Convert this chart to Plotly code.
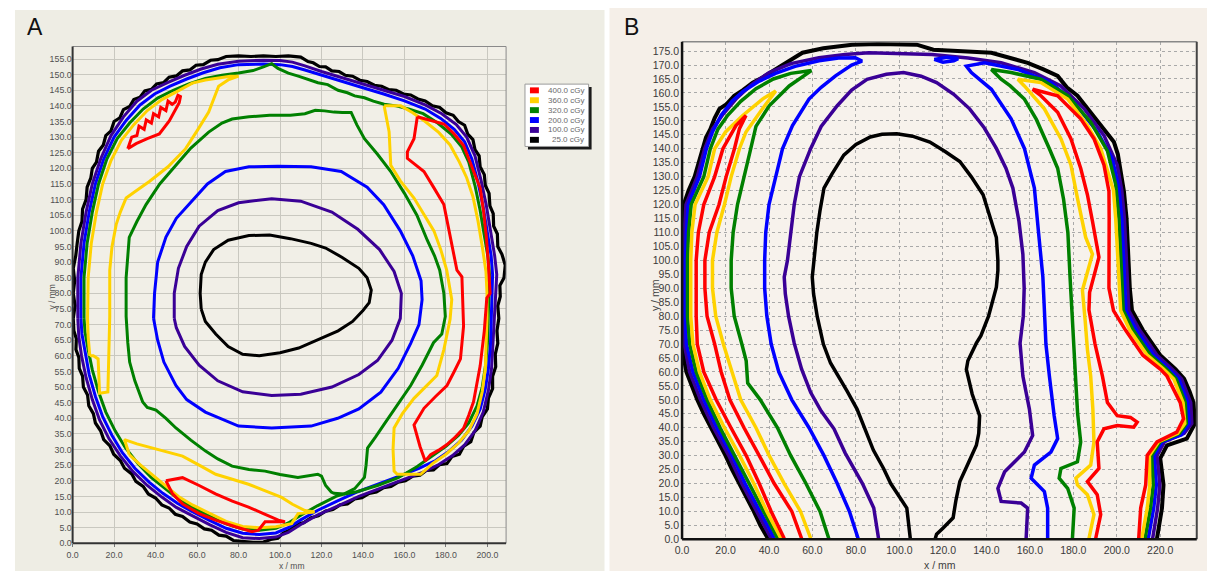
import plotly.graph_objects as go

W, H = 1207, 577

# ---------------- legend / levels ----------------
DOSE_LABELS = ["400.0 cGy", "360.0 cGy", "320.0 cGy", "200.0 cGy", "100.0 cGy", "25.0 cGy"]
DOSE_COLORS = ["#ff0000", "#ffd200", "#008000", "#0000ff", "#3a0096", "#000000"]
RED, YEL, GRN, BLU, PUR, BLK = DOSE_COLORS

# ---------------- axes ----------------
A_X_TICKS = [0, 20, 40, 60, 80, 100, 120, 140, 160, 180, 200]
A_Y_TICKS = [i * 5 for i in range(32)]
B_X_TICKS = [0, 20, 40, 60, 80, 100, 120, 140, 160, 180, 200, 220]
B_Y_TICKS = [i * 5 for i in range(36)]
A_X_RANGE = [0, 209]
A_Y_RANGE = [0, 159]
B_X_RANGE = [0, 236.8]
B_Y_RANGE = [0, 178.3]

# ================= Panel A contours (x mm, y mm) =================
A_black_outer = [(0.3,72),(1.2,76),(0.3,80),(1.0,84),(0.3,88),(1.5,92),(2.2,96),(3.0,100),(4.5,103),(4.8,107),(6.5,110),(7.0,114),(8.8,117),(9.5,120),(11.5,122),(12.5,125.5),(14.8,127.5),(16.0,130.5),(18.5,132),(20.0,135),(22.8,136.2),(24.5,138.8),(27.5,139.8),(29.5,142),(32.5,142.8),(34.8,144.8),(38.0,145.3),(40.5,147),(44.0,147.5),(46.5,149.2),(50.0,149.6),(53.0,151.2),(56.5,151.5),(59.5,153),(63.0,153.2),(66.5,154.6),(70.0,154.8),(74.0,155.8),(80.0,156),(86.0,155.8),(92.0,156),(98.0,155.8),(104.0,156),(110.0,155.6),(113.5,154.2),(116.0,153.8),(119.0,152.6),(122.0,152.5),(125.0,151.2),(128.5,151),(131.5,149.8),(135.0,149.5),(138.5,148.2),(142.0,147.8),(145.5,146.6),(149.0,146.3),(152.5,145.2),(156.0,145),(159.5,143.8),(163.0,143.5),(166.5,142.2),(170.0,141.6),(173.5,140),(177.0,139.5),(180.0,137.8),(183.5,137),(186.0,135),(189.0,133.8),(190.5,131),(193.0,129.2),(194.0,126),(196.0,124),(196.5,120.5),(198.5,118),(199.0,114.5),(200.8,112),(201.2,108),(202.8,105.5),(203.0,101.5),(204.8,99),(205.0,95),(207.0,92.5),(208.6,89),(208.0,85),(206.0,82.5),(206.2,79),(205.0,76),(205.5,72),(204.6,68),(205.0,64),(203.8,60.5),(204.0,56.5),(202.5,53.5),(202.5,49.5),(200.5,46.5),(200.0,43),(197.5,40.5),(196.5,37.5),(193.5,35.5),(192.0,32.5),(188.5,31),(186.5,28.5),(183.0,27.8),(180.5,25.5),(177.0,25.2),(174.0,23.5),(170.5,23.3),(167.5,21.8),(164.0,21.5),(160.5,20),(157.0,19.6),(153.5,18.2),(150.0,17.8),(146.5,16.4),(143.0,16),(139.5,14.6),(136.0,14.2),(132.5,12.6),(129.0,12.3),(125.5,10.8),(122.0,10.3),(118.5,8.8),(115.0,8.2),(111.5,6.6),(108.0,6.0),(104.5,4.2),(101.5,3.3),(99.0,1.6),(95.5,1.2),(92.0,0.4),(87.0,0.3),(82.0,0.5),(77.5,0.9),(74.0,2.3),(70.5,2.6),(67.0,4.2),(63.5,4.6),(60.0,6.2),(56.5,6.8),(53.0,8.6),(49.5,9.3),(46.5,11.3),(43.0,12.3),(40.0,14.5),(36.5,15.8),(34.0,18.2),(30.5,19.8),(28.5,22.2),(25.0,24),(23.0,26.5),(19.8,28.5),(18.0,31.2),(15.0,33.2),(13.5,36),(11.0,38.5),(10.0,41.5),(7.8,44),(7.2,47.5),(5.2,50),(4.8,53.5),(3.2,56),(3.0,59.5),(1.6,62),(1.8,65.5),(0.6,68),(0.3,72)]

A_purple_outer = [(2.5,72),(2.5,85),(4.0,96),(6.5,106),(9.5,115),(13.5,123),(18.5,130.5),(24.5,136.5),(31,141.5),(38,145),(46,147.5),(54,149.8),(62,151.8),(70,153.3),(80,154.3),(92,154.6),(100,154.5),(106,154),(112,152.8),(120,151),(130,149),(140,147),(150,145),(160,143),(170,140.3),(178,137.5),(185,134),(190,130),(194,124),(197,116),(199.5,108),(201.5,100),(203.5,92),(204.5,86),(204,80),(203.5,72),(203,64),(202,56),(200.5,49),(198,42),(194,36),(189,31.5),(183,28),(176,25),(168,22.5),(158,20),(148,17.5),(138,15),(128,12),(118,9),(110,6),(104,3.5),(98,2),(90,1.5),(82,1.8),(74,3.5),(66,6),(58,8.8),(50,11.5),(43,14.8),(36,18.5),(29,23),(23,28),(17.5,33.5),(13,39.5),(9.5,46),(6.5,53),(4.3,60),(3,66),(2.5,72)]

A_blue_outer = [(4,72),(4,85),(5.5,96),(8,106),(11,115),(15,123),(20,130),(26,135.5),(32.5,140.3),(39.5,143.8),(47,146.3),(55,148.6),(63,150.6),(71,152.2),(80,153.2),(92,153.4),(100,153.2),(106,152.6),(112,151.5),(120,149.8),(130,147.8),(140,145.8),(150,143.8),(160,141.6),(170,139),(177.5,136),(184,132.5),(189,128.5),(192.5,123),(195.5,115.5),(198,107.5),(200,99.5),(201.8,92),(202.5,86),(202.3,80),(202,72),(201.5,64),(200.5,56),(199,49.5),(196.5,43),(192.5,37.5),(187.5,33),(181.5,29.5),(175,26.5),(167,24),(157.5,21.5),(147.5,19),(137.5,16.5),(127.5,13.5),(118,10.5),(110,7.5),(104,5),(98,3.3),(90,2.8),(82,3.2),(74,4.8),(66,7.3),(58,10),(50.5,12.8),(43.5,16),(37,19.5),(30,24),(24,29),(19,34.5),(14.5,40.5),(11,47),(8,54),(6,61),(4.5,67),(4,72)]

A_green_outer = [(5.5,72),(5.5,85),(7,96),(9.5,106),(12.5,115),(16.5,123),(21.5,129.5),(27.5,134.5),(34,139),(41,142.5),(48.5,145),(56,147),(64,148.8),(72,149.8),(80,150.5),(87,151.3),(92,152.5),(96,153.5),(99,152),(104,150.5),(108.8,149.5),(113,148.5),(118.3,147.4),(123,146.8),(128,145),(132.5,144.2),(136,143.2),(140.7,142.6),(145,141.5),(150.2,140.5),(156,140),(162,139),(169,137.5),(176,134.5),(182.5,131),(187.5,127),(191,122),(194,114.5),(196.5,106.5),(198.5,98.5),(200.3,91.5),(201,86),(200.8,80),(200.5,72),(200,64),(199,56.5),(197.5,50),(195,44),(191,38.5),(186,34.5),(180,31),(173.5,28),(166,24.5),(157,21),(147,18.5),(137,16.5),(131,15.8),(127,15),(118,12),(110,9),(104,6.5),(98,4.8),(90,4.2),(82,4.6),(74,6.2),(66,8.7),(58,11.4),(51,14.2),(44.5,17.5),(38,21),(31.5,25.5),(25.5,30.5),(20.5,36),(16,42),(12.5,48.5),(9.5,55.5),(7.5,62),(6,67.5),(5.5,72)]

A_green_inner = [(25.8,72.6),(25.8,85),(27.3,97.9),(31,103),(35.4,108.4),(42,115),(49.8,121),(57,126.5),(65.6,131.6),(72,134.5),(76.9,135.8),(85,136.5),(95,137),(105,137),(112,137.5),(117,138.6),(121.5,138.4),(126,138),(130,137.9),(134.3,137.9),(137,134),(140.7,129.5),(147,124.5),(153.4,119),(160,112),(166,105),(171,97),(174.5,92),(177,87.4),(179,80),(179.7,72.6),(178,67),(174,64.2),(168.5,57),(163,50.5),(156.5,44),(150,37.9),(146,34),(142.2,30.5),(141.5,25),(140.7,21.1),(136,17.5),(131,15.8),(126,16),(124.7,16.4),(122,18.5),(120,21.5),(118.2,22.1),(113,21.5),(108.6,21.1),(100,22),(92.8,23.1),(85,23.6),(76.9,24.7),(70,27),(64.1,29.5),(57,33),(49.8,36.9),(45,40),(40.2,42.6),(36,43.5),(33.8,45.2),(30,52),(27.5,58),(26.6,64.2),(25.8,72.6)]

A_blue_inner = [(39,72),(39.5,80),(41,90),(45,98),(50,104),(57.5,109.5),(65,115),(73.7,119),(85,120.5),(99,120.7),(115,120.5),(129.5,119),(142,114),(150,108.4),(158,100),(164,92),(168,84),(168.5,78),(167,70),(163,64),(157,56),(148.6,48.4),(138,43),(127.8,40),(115,37.5),(96,36.9),(80,37.5),(64,42),(55,46),(49.8,50.5),(44,58),(41,65),(39,72)]

A_purple_inner = [(49,72),(49,80),(51,88),(55,95),(61,101.5),(70,106.5),(80,109),(96,110.3),(110,109.5),(125,106),(137.5,100.5),(148,94),(155,87),(158.5,80),(158,72),(154,65),(147,58.5),(138,54),(125,50),(110,47.7),(96,47.3),(82,48.5),(70,52),(61,57),(54,63),(50,69),(49,72)]

A_black_inner = [(62,75),(61.5,80),(62,86),(64,90),(68,94),(75,97),(85,98.5),(95,98.7),(105,97.5),(115,96),(122,94.5),(130,91.5),(138,88),(142,85),(144,81),(143,77),(140,74.5),(135,71),(128,68),(118,65),(109,62.5),(100,61),(90,60),(82,60.5),(75,63),(69,67),(64,71),(62,75)]

A_yellow_left = [(8.3,60),(7.5,66),(7.2,72),(7.5,85),(9,96),(11.5,106),(14.5,115),(18.5,122.5),(23.5,129),(29.5,134),(36,138.5),(43,142),(50,144.5),(57.7,147.3),(64,148.3),(70,149),(76,149.5),(80,149.5),(75,148.3),(70.4,146.3),(68,142),(65.6,138),(60,132),(54.5,126.3),(46,120.5),(37,115.8),(30,112.5),(25.8,110.5),(23,106),(21,102),(19,95),(17.9,87.4),(17.9,72.6),(17.5,60),(17,48.4),(13,48),(12.5,54),(12.3,59),(10,60),(8.3,60)]

A_yellow_bottom = [(27.3,28.4),(25,33.2),(31,31.8),(38.6,30.5),(46,29.2),(53,27.9),(61,25),(69,22.1),(77,20.5),(84.8,18.9),(92,17),(100.8,14.7),(106,12.5),(112,10.5),(116.7,10),(112,9.7),(108.7,9.5),(105.6,6.3),(98,5.3),(90,5),(82,5.4),(74,7),(66,9.5),(58,12.2),(51,15),(44.5,18.5),(38.5,22),(32.5,25.2),(27.3,28.4)]

A_yellow_right = [(150.2,140),(152.6,131.7),(153.4,121),(158,116),(164.6,110.5),(169.5,105),(174.2,100),(177.5,94),(180.4,87.4),(182.8,78),(182,71.7),(179,62),(175.6,53.7),(170,50),(164.6,46.4),(159,41.5),(155,36.9),(154.5,30),(155,23.1),(156.5,22.1),(162,22.1),(167.8,22.1),(173.5,25.5),(180,28.5),(186,32),(191,36),(195,41.5),(197.5,48.5),(199,56),(199.5,64),(199.8,72),(199.8,80),(199.3,87),(197.5,95),(195.5,103),(193,111),(190,117),(186.5,122),(182,127.5),(176.5,131.5),(170,135),(164,137.8),(158.2,140),(150.2,140)]

A_red_right = [(166.2,136.5),(172,135.5),(179,134.2),(184,131),(188.5,127.3),(192.5,120.5),(196.5,113.7),(198.2,106),(199.5,97.9),(200.5,89),(201.3,80),(199.7,78.5),(198.5,68),(196.5,56.8),(195,51),(193.3,45.3),(191,41),(188.5,36.8),(184.5,34),(180.5,31.6),(176.5,29.8),(172.6,28.4),(170,26.3),(167.5,31),(164.6,37.9),(169.4,43.2),(175,47),(180.5,50.5),(184,55),(187,59),(188.5,69.5),(188,78),(187.7,85.3),(185.3,87.4),(182,98),(179,108.4),(174,114),(169.4,119),(161.4,123.2),(161.4,125.3),(164.6,129.5),(165.5,133),(166.2,136.5)]

A_red_topleft = [(26.6,126.3),(30.6,127.9),(36,129.5),(41.8,131),(46.6,135.2),(51.4,141),(52,143),(50.8,143.4),(49.5,141.2),(48,140.5),(46,141.5),(45,138.5),(42.5,139.5),(41.5,136.5),(39,137.5),(38,134.5),(35.5,135.5),(34.5,132.5),(32,133.5),(31,130.5),(28.5,130),(27.5,128),(26.6,126.3)]

A_red_bottom = [(45,20),(53,21),(61,18.5),(68.9,15.8),(77,13.5),(84.8,11.6),(92,9.5),(99.2,7.4),(102.4,6.9),(96,6.9),(92.8,6.9),(89.6,4.2),(86.5,3.7),(78.5,5.3),(68.9,7.4),(61,9.5),(53,12.6),(48.2,15.8),(45,20)]

# ================= Panel B contours (x mm, y mm) =================
B_black_outer = [(39.5,0.3),(36,5),(33,10),(29.5,15),(26,20),(23,25),(20,30),(16.5,35),(13,40),(10,45),(7,50),(4.5,55),(2,60),(0.8,65),(0.3,70),(0.3,80),(0.3,90),(0.3,100),(0.3,110),(0.8,120),(3,125),(5.8,130),(7.5,135),(9.6,140),(11,144),(13,147),(15,151),(17.2,154.3),(20.5,156),(24,159),(28,161),(32.5,163.7),(37,165.5),(42,168),(48,171),(55.4,174.4),(65,176),(72,176.5),(78.2,177.3),(90,177.5),(108,177.3),(115.6,175.5),(130,175),(142.3,174.4),(151,172.5),(159,170.8),(166,168.5),(172.8,166.1),(177,162),(181.9,159),(187,154),(192.6,148.3),(198.7,142.4),(200.5,138),(201.7,133),(203.3,124.7),(204.5,115),(205.5,100),(206,90),(207,82),(212,75),(216,70.5),(220,66),(227,61),(231,57.5),(233.5,53),(235.3,49),(236,41.5),(232.2,36.1),(223.1,33.7),(220,29),(221.5,19.5),(220.8,11.2),(218.5,0.3)]

B_purple_outer = [(41,0.3),(34.5,10),(27.5,20),(21.5,30),(14.5,40),(8.5,50),(3.5,60),(1,70),(0.8,80),(0.8,90),(0.8,100),(1,110),(1.8,120),(7,130),(10.4,140),(14,147),(19,152.5),(24.8,157.8),(32,163),(40.1,167.3),(50,170.5),(63,172.6),(75,173.8),(85.9,174.4),(101,174),(115,173.8),(131.6,172.5),(146.8,170.8),(162.1,167.3),(174.3,162.5),(185,154.3),(194.1,144.8),(200.2,134.2),(202.3,125),(203.5,115),(204.3,100),(204.7,90),(205.5,82),(210.5,75),(218.5,66),(225.5,61),(229.8,57.5),(234,49),(234.5,41.5),(231,38),(222,35),(218.5,30),(219.8,19.5),(218.8,11.2),(216.5,0.3)]

B_blue_left = [(42.5,0.3),(36,10),(29,20),(23,30),(16,40),(10,50),(5,60),(2,70),(1.5,80),(1.5,90),(1.5,100),(2,110),(2.8,120),(8,130),(11.2,140),(14,146),(18,152),(23,157),(28,160.5),(35,164),(43,167),(52,169.5),(63,171.5),(72,172.5),(79.7,172.6),(82.8,171.4),(78,170),(70.6,166.1),(64,162),(58.4,157.8),(53,151),(50.8,148.3),(46.2,140),(43.1,130),(40,120),(38.5,110),(38,100),(38,90),(39,80),(41,70),(44.5,60),(50.5,50),(58.4,40),(65.3,30),(71.4,20),(77,10),(81,0.3)]

B_blue_right = [(168.2,0.3),(168.2,11.2),(166.7,17.1),(160.6,21.9),(162.1,26.6),(169.7,31.3),(172.8,36.1),(171.2,44.3),(169,58.5),(167.4,70),(166.7,82.2),(166,94),(164,110),(162.1,125.9),(157.5,140.1),(151.4,150.7),(142.3,161.3),(133.1,167.3),(130.8,169.6),(139.2,170.8),(154.5,168.4),(169.7,163.7),(180.4,156.6),(191.1,146),(197.9,136.5),(201,125.9),(202.3,115),(203,100),(203.5,90),(204.2,82),(209,75),(217,66),(224,61),(228.5,57.5),(232.7,49),(233.2,41.5),(229.8,37.5),(221,35),(217.2,30),(218.2,19.5),(217,11.2),(214.5,0.3)]

B_blue_top = [(116,172),(120,171),(125,171.5),(127,172.3),(122,172.8),(116,172)]

B_green_left = [(44,0.3),(37.5,10),(31,20),(24.5,30),(17.5,40),(11.5,50),(6.5,60),(3.5,70),(2.5,80),(2.5,90),(2.5,100),(3,110),(4.2,120),(10,130),(13,140),(16.5,147),(21,152),(27,157),(34,161.5),(42,165),(50,167),(59.5,168),(56,166),(49.3,162.5),(40.1,155.4),(34,148),(31.6,140),(28.7,130),(25.5,120),(23.5,110),(22.6,100),(22.6,90),(24,80),(27.5,70),(29.5,64),(30.2,56),(36,50),(43.9,40),(50,30),(57,20),(63.5,10),(67.5,0.3)]

B_green_right = [(179.6,0.3),(180.4,11.2),(177.4,18.3),(173.5,21.9),(174.3,25.4),(181.9,27.8),(183.4,34.9),(182,45),(181,58.5),(180,70),(179.5,80),(178.5,94),(177.5,110),(175.5,122),(172.8,133),(169,140),(163,150.5),(157.5,157.8),(151,162.5),(146.8,164.9),(142.3,168.4),(151.4,167.3),(165.1,164.9),(177.4,159),(188,149.5),(195.7,139.2),(199.5,127.2),(201,115),(201.8,100),(202.3,90),(203,82),(207.5,75),(215.5,66),(222.8,61),(227.3,57.5),(231.5,49),(232,41.5),(228.8,38),(220,35),(216,30),(216.8,19.5),(215.5,11.2),(213,0.3)]

B_yellow_left = [(45.5,0.3),(39,10),(33,20),(26.5,30),(19.5,40),(13,50),(8,60),(5,70),(4,80),(4,90),(4,100),(4.5,110),(6,120),(12,130),(15,140),(20,146),(27.9,151.9),(37,157.8),(43.1,160.7),(37,154.3),(29.4,146),(26.4,140),(22.6,130),(19.5,120),(16,110),(14,100),(14,90),(15.5,80),(19,70),(23,60),(27,50),(34,40),(40.1,30),(47,20),(54.5,10),(59.2,0.3)]

B_yellow_right = [(187.2,0.3),(189.5,8.9),(186.5,16),(181.9,19.5),(181.2,21.9),(188,26.6),(189.5,34.9),(189,46.7),(188,58.5),(186.5,68),(185.5,78),(184.2,89.3),(188.8,102.2),(185.7,108.2),(181.9,122.3),(178.9,134.2),(174.3,143.6),(166.7,154.3),(157.5,162.5),(154.5,164.9),(165.1,163.7),(177.4,157.8),(186.5,148.3),(192.6,140.1),(197.2,128.3),(198.5,125),(199.5,115),(200.5,100),(201,90),(201.8,82),(206,75),(214,66),(221.5,61),(226.2,57.5),(230.5,49),(231.3,41.5),(228,38),(219.2,35),(215,30),(215.2,19.5),(214,11.2),(211.5,0.3)]

B_red_left = [(47,0.3),(41,10),(35.5,20),(29.5,30),(22.5,40),(15.7,50),(10,60),(7,70),(6.5,80),(6.5,90),(6.5,100),(7.5,110),(10,120),(15,130),(18.8,140),(24.8,148.3),(29.4,151.9),(26.4,147.2),(24.1,140),(20.3,130),(17,120),(12.5,110),(10.5,100),(10.5,90),(11.5,80),(15,70),(18,60),(22,50),(28.5,40),(35.5,30),(42.4,20),(50.5,10),(55,0.3)]

B_red_right = [(190.3,0.3),(192.6,8.9),(191,16),(186.5,20.7),(191.8,25.4),(191,34.9),(194.1,39.6),(200.2,40.8),(207.8,40.2),(209.4,42),(206.3,43.7),(200.2,44.3),(195.7,49),(193.4,58.5),(190,70),(187.2,82.2),(187.5,88.5),(191.8,101.1),(188.8,114.1),(186.5,123.5),(183.4,133),(178.9,143.6),(172.8,153.1),(165.1,159),(161.3,161.3),(172.8,159),(183.4,150.7),(189.5,143.6),(194.1,134.2),(196.4,124.7),(196.5,115),(196.5,100),(196.4,90),(198.5,82),(204,75),(212,66),(220,61),(223.1,58.5),(229.2,49),(230.7,43.2),(227.6,38.4),(218.5,34.9),(214,30.1),(213.3,19.5),(211,11.2),(210.1,0.3)]

B_purple_inner = [(90.4,0.3),(88.2,11.2),(83,20),(80,24),(75,31),(69.9,39.6),(64,46),(59.2,52.6),(55,61),(51.6,70.3),(49,80),(47.5,88),(47,94),(48.5,100),(50,110),(51.6,120),(54,130),(59.2,140.1),(64,148),(71.4,155.4),(78,161),(85.1,164.9),(94,166.7),(101.9,167.3),(110,166),(117.1,163.7),(125,159.5),(132.3,154.3),(139,147.5),(144.6,140.1),(149,133),(152.2,125.9),(155,114),(156.8,102.2),(157.4,90),(157,80),(155.5,70.3),(156.8,58.5),(159.8,46.7),(161.3,37.2),(157.5,31.3),(148.4,24.2),(145.3,18.3),(146.8,13.6),(156,13),(159,11.2),(158.3,0.3)]

B_black_inner = [(105,0.3),(103.4,11.2),(96,20),(92.7,25.4),(88,32),(84,40),(80.5,46.7),(76,53),(71,59.5),(68.3,63.2),(65,70),(62.2,79.8),(60.5,88),(59.9,94),(60.7,100),(62,110),(63.5,118),(65.3,125.9),(69,131),(74.4,137.7),(80,141.5),(86.6,144.2),(92,145.2),(98.8,145.4),(106,144.5),(114,142.4),(121,139),(127.8,135.4),(133,130),(138.5,123.5),(141.5,116),(144.6,108.2),(145.3,100),(145.3,96.3),(144.6,90.4),(141,80),(137.5,73),(135.4,70.3),(131.5,64),(130.8,60.9),(133.5,52),(136.9,44.3),(136.5,38),(135.4,33.7),(131.5,27),(127.8,20.7),(126,14),(124.7,7.7),(120,4),(117.1,1.8),(116.5,0.3)]

A_CONTOURS = [
    (A_black_outer, BLK, 3.2), (A_purple_outer, PUR, 3), (A_blue_outer, BLU, 3), (A_green_outer, GRN, 3),
    (A_green_inner, GRN, 3), (A_blue_inner, BLU, 3), (A_purple_inner, PUR, 3), (A_black_inner, BLK, 3),
    (A_yellow_left, YEL, 3), (A_yellow_bottom, YEL, 3), (A_yellow_right, YEL, 3),
    (A_red_right, RED, 3), (A_red_topleft, RED, 3), (A_red_bottom, RED, 3),
]
B_CONTOURS = [
    (B_black_outer, BLK, 4), (B_purple_outer, PUR, 3.5),
    (B_blue_left, BLU, 3.5), (B_blue_right, BLU, 3.5), (B_blue_top, BLU, 3.5),
    (B_green_left, GRN, 3.5), (B_green_right, GRN, 3.5),
    (B_yellow_left, YEL, 3.5), (B_yellow_right, YEL, 3.5),
    (B_red_left, RED, 3.5), (B_red_right, RED, 3.5),
    (B_purple_inner, PUR, 3.5), (B_black_inner, BLK, 3.5),
]

fig = go.Figure()
for pts, col, w in A_CONTOURS:
    fig.add_trace(go.Scatter(x=[p[0] for p in pts], y=[p[1] for p in pts], mode="lines",
                             line=dict(color=col, width=w), xaxis="x", yaxis="y",
                             showlegend=False, hoverinfo="skip"))
for pts, col, w in B_CONTOURS:
    fig.add_trace(go.Scatter(x=[p[0] for p in pts], y=[p[1] for p in pts], mode="lines",
                             line=dict(color=col, width=w), xaxis="x2", yaxis="y2",
                             showlegend=False, hoverinfo="skip"))

def px(x):
    return x / W

def py(y):
    return 1 - y / H

A_DOM_X = [px(66), px(502)]
A_DOM_Y = [py(549), py(47)]
B_DOM_X = [px(679), px(1196.7)]
B_DOM_Y = [py(545), py(42.3)]

FONT = "Liberation Sans, Arial, sans-serif"

shapes = []
# panel backgrounds
shapes.append(dict(type="rect", xref="paper", yref="paper", x0=px(8), x1=px(601), y0=0, y1=py(10),
                   fillcolor="#eeede4", line=dict(width=0), layer="below"))
shapes.append(dict(type="rect", xref="paper", yref="paper", x0=px(606), x1=1, y0=0, y1=py(8),
                   fillcolor="#f5efe8", line=dict(width=0), layer="below"))
# plot areas
shapes.append(dict(type="rect", xref="x domain", yref="y domain", x0=0, x1=1, y0=0, y1=1,
                   fillcolor="#f1efe7", line=dict(width=0), layer="below"))
shapes.append(dict(type="rect", xref="x2 domain", yref="y2 domain", x0=0, x1=1, y0=0, y1=1,
                   fillcolor="#f7f2ec", line=dict(width=0), layer="below"))
# frames A
shapes += [
    dict(type="line", xref="x domain", yref="y domain", x0=0, x1=1, y0=1, y1=1, line=dict(color="#8a8a8a", width=1)),
    dict(type="line", xref="x domain", yref="y domain", x0=1, x1=1, y0=0, y1=1, line=dict(color="#8a8a8a", width=1)),
    dict(type="line", xref="x domain", yref="y domain", x0=0, x1=0, y0=0, y1=1, line=dict(color="#333333", width=2)),
    dict(type="line", xref="x domain", yref="y domain", x0=0, x1=1, y0=0, y1=0, line=dict(color="#333333", width=2)),
]
# frames B
shapes += [
    dict(type="line", xref="x2 domain", yref="y2 domain", x0=0, x1=1, y0=1, y1=1, line=dict(color="#888888", width=1.5)),
    dict(type="line", xref="x2 domain", yref="y2 domain", x0=1, x1=1, y0=0, y1=1, line=dict(color="#444444", width=2)),
    dict(type="line", xref="x2 domain", yref="y2 domain", x0=0, x1=0, y0=0, y1=1, line=dict(color="#111111", width=2.5)),
    dict(type="line", xref="x2 domain", yref="y2 domain", x0=0, x1=1, y0=0, y1=0, line=dict(color="#111111", width=2.5)),
]
# legend box (panel A)
shapes.append(dict(type="rect", xref="paper", yref="paper", x0=px(524), x1=px(588), y0=py(151), y1=py(88),
                   fillcolor="#1a1a1a", line=dict(width=0)))
shapes.append(dict(type="rect", xref="paper", yref="paper", x0=px(521), x1=px(585), y0=py(148), y1=py(85),
                   fillcolor="#ffffff", line=dict(color="#9a9a9a", width=1)))
annotations = []
for i, (lab, col) in enumerate(zip(DOSE_LABELS, DOSE_COLORS)):
    yc = 91.3 + i * 10.0
    shapes.append(dict(type="rect", xref="paper", yref="paper", x0=px(526), x1=px(535),
                       y0=py(yc + 3), y1=py(yc - 3), fillcolor=col, line=dict(width=0)))
    annotations.append(dict(text=lab, xref="paper", yref="paper", x=px(582), y=py(yc), xanchor="right",
                            yanchor="middle", showarrow=False, font=dict(family=FONT, size=8, color="#6a6a6a")))

def label(text, x, y, size, color, angle=0):
    return dict(text=text, xref="paper", yref="paper", x=px(x), y=py(y), xanchor="center",
                yanchor="middle", showarrow=False, textangle=angle,
                font=dict(family=FONT, size=size, color=color))

annotations += [
    label("A", 28, 27, 23, "#111111"),
    label("B", 628, 27, 23, "#111111"),
    label("x / mm", 287, 572, 8.5, "#505050"),
    label("y / mm", 45, 300, 8.5, "#505050", -90),
    label("x / mm", 938, 571, 10.5, "#404040"),
    label("y / mm", 652, 298, 10.5, "#404040", -90),
]

fig.update_layout(
    width=W, height=H, autosize=False,
    margin=dict(l=0, r=0, t=0, b=0),
    paper_bgcolor="#ffffff", plot_bgcolor="rgba(0,0,0,0)",
    shapes=shapes, annotations=annotations,
    xaxis=dict(domain=A_DOM_X, range=A_X_RANGE, tickvals=A_X_TICKS, ticktext=[f"{v:.1f}" for v in A_X_TICKS],
               gridcolor="#c9c8c0", gridwidth=1, zeroline=False, showline=False,
               ticks="outside", ticklen=3, tickcolor="#777777",
               tickfont=dict(family=FONT, size=8.8, color="#505050"), anchor="y"),
    yaxis=dict(domain=A_DOM_Y, range=A_Y_RANGE, tickvals=A_Y_TICKS, ticktext=[f"{v:.1f}" for v in A_Y_TICKS],
               gridcolor="#c9c8c0", gridwidth=1, zeroline=False, showline=False,
               tickfont=dict(family=FONT, size=8.8, color="#505050"), anchor="x"),
    xaxis2=dict(domain=B_DOM_X, range=B_X_RANGE, tickvals=B_X_TICKS, ticktext=[f"{v:.1f}" for v in B_X_TICKS],
                gridcolor="#a9a9a9", gridwidth=1, griddash="dot", zeroline=False, showline=False,
                ticklabelstandoff=3,
                tickfont=dict(family=FONT, size=10.5, color="#3a3a3a"), anchor="y2"),
    yaxis2=dict(domain=B_DOM_Y, range=B_Y_RANGE, tickvals=B_Y_TICKS, ticktext=[f"{v:.1f}" for v in B_Y_TICKS],
                gridcolor="#a9a9a9", gridwidth=1, griddash="dot", zeroline=False, showline=False,
                ticklabelstandoff=2,
                tickfont=dict(family=FONT, size=10.5, color="#3a3a3a"), anchor="x2"),
)

fig.write_html("out.html", config={"displayModeBar": False},
               post_script="document.body.style.margin='0';document.body.style.overflow='hidden';")
